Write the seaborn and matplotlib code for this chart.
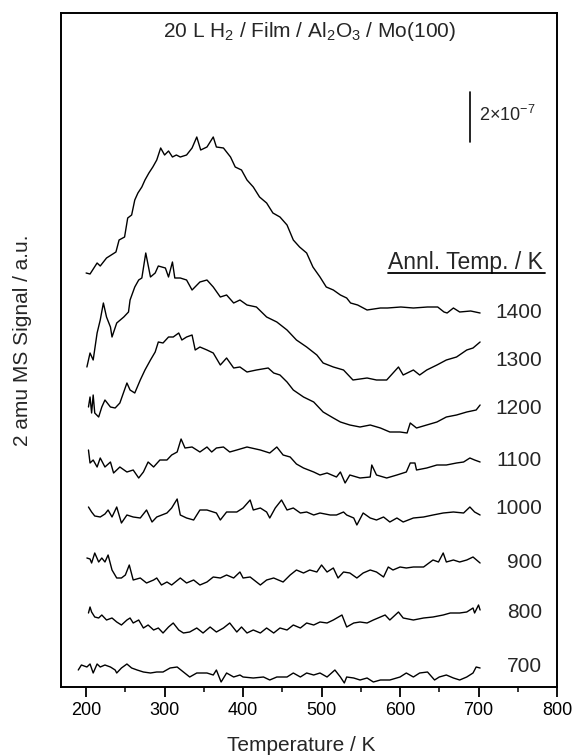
import numpy as np
import pandas as pd
import seaborn as sns
import matplotlib as mpl
mpl.use("Agg")
import matplotlib.pyplot as plt
from matplotlib.lines import Line2D

# signal in units of 4e-9 (scale bar 2e-7 = 50 units)
SIG_UNIT = 4e-9

anneal_temps = ["1400", "1300", "1200", "1100", "1000", "900", "800", "700"]
offsets = [374, 327, 278, 227, 179, 124, 74, 20]

t_1400 = [200,205,214,218,226,238,242,249,253,258,262,266,271,275,280,285,290,295,300,305,
          310,315,320,328,335,341,346,354,362,366,375,384,390,398,405,413,421,430,438,447,
          456,464,472,481,489,498,506,515,524,532,537,546,558,575,584,601,617,635,648,656,
          660,668,676,690,702]
s_1400 = [40,39,50,47,55,61,73,76,95,98,113,120,126,133,140,146,153,165,158,162,
          156,158,156,158,165,176,163,166,176,166,165,156,146,143,133,126,116,110,100,96,
          88,73,66,60,46,36,26,23,18,15,10,8,3,5,5,6,5,6,6,1,
          0,5,1,2,0]

t_1300 = [201,205,209,214,218,222,226,231,233,239,248,254,256,262,267,271,276,282,288,292,
          301,305,310,313,320,328,335,345,354,362,371,379,388,396,405,417,430,443,456,468,
          481,494,502,515,528,540,558,570,583,598,604,617,625,634,647,659,672,685,693,702]
s_1300 = [-7,7,0,27,40,57,43,33,23,37,43,48,60,73,80,82,107,83,87,94,
          92,83,98,82,82,80,70,78,80,73,63,65,57,60,55,53,43,38,30,20,
          13,5,-3,-7,-10,-20,-18,-20,-20,-7,-15,-10,-15,-10,-5,0,3,10,12,18]

t_1200 = [203,205,207,209,211,216,220,224,231,237,243,252,256,262,269,275,282,288,292,298,
          305,311,318,322,328,335,339,345,354,362,371,379,388,396,405,417,432,439,447,456,
          464,477,490,502,515,524,536,549,562,575,587,600,609,613,621,634,647,659,672,685,
          697,702]
s_1200 = [2,12,-4,14,-4,-8,2,9,2,1,6,26,19,16,29,39,49,57,67,66,
          72,72,76,69,72,74,59,62,59,56,44,51,41,42,37,39,41,36,34,27,
          19,12,7,-3,-9,-13,-16,-18,-16,-19,-23,-23,-24,-14,-19,-16,-13,-8,-6,-3,
          -1,4]

t_1100 = [203,205,209,214,218,224,231,235,243,252,260,267,273,279,286,294,303,309,316,321,
          326,335,345,354,360,366,375,383,392,405,422,434,443,451,460,468,477,490,498,507,
          519,524,530,536,549,562,564,570,583,596,608,613,619,621,634,647,659,672,681,689,
          695,702]
s_1100 = [10,-3,0,-7,2,-7,-2,-13,-7,-12,-10,-18,-12,-2,-7,0,0,5,8,21,
          12,13,8,13,8,12,13,8,10,13,10,7,13,5,3,-4,-8,-12,-15,-13,
          -17,-12,-23,-15,-18,-17,-5,-15,-18,-15,-12,-3,-3,-10,-8,-5,-5,-3,-2,2,
          0,-2]

t_1000 = [203,207,211,218,224,228,233,239,245,252,260,269,277,284,290,303,309,316,320,328,
          337,345,354,362,366,371,379,392,400,409,413,422,430,434,441,449,456,464,473,481,
          490,498,511,519,528,532,541,545,553,562,570,579,587,596,604,617,630,642,655,668,
          681,689,695,702]
s_1000 = [1,-4,-8,-9,-6,-2,-9,1,-15,-7,-9,-10,-2,-14,-9,-5,0,9,-7,-10,
          -12,-2,-2,-4,-5,-12,-4,-4,0,8,-2,0,-4,-10,0,8,-2,0,-5,-4,
          -7,-5,-7,-7,-4,-7,-10,-17,-5,-10,-12,-9,-14,-10,-14,-10,-9,-7,-5,-4,
          -5,1,-4,-7]

t_900 = [201,205,207,211,216,220,224,228,233,239,245,250,255,260,269,277,286,290,296,303,
         309,320,328,337,345,354,362,371,379,388,396,400,409,422,430,439,451,460,468,477,
         485,494,500,507,515,521,528,536,545,553,562,570,579,585,591,600,608,617,630,642,
         649,655,659,668,676,685,693,702]
s_900 = [5,4,0,10,1,5,1,8,-7,-15,-15,-12,-2,-17,-15,-20,-17,-15,-22,-19,
         -22,-15,-20,-17,-22,-19,-14,-15,-12,-15,-9,-15,-14,-22,-17,-15,-19,-12,-7,-10,
         -7,-9,-2,-9,-5,-15,-9,-10,-15,-10,-7,-9,-14,-4,-7,-4,-5,-4,-4,3,
         1,10,1,3,1,3,6,0]

t_800 = [203,205,207,211,216,220,226,233,239,245,252,256,260,267,273,279,286,292,298,305,
         311,318,324,332,341,349,358,366,375,383,392,398,405,413,422,430,439,447,456,464,
         473,481,490,498,507,515,526,532,541,549,558,566,575,581,587,598,604,617,630,642,
         655,664,676,685,693,695,700,702]
s_800 = [0,6,1,-4,-5,-2,-7,-5,-9,-12,-7,-5,-10,-7,-15,-12,-17,-15,-20,-14,
         -10,-17,-20,-19,-15,-20,-14,-19,-15,-10,-19,-14,-20,-17,-20,-15,-20,-15,-17,-12,
         -15,-10,-12,-9,-10,-7,-2,-14,-10,-9,-10,-7,-4,-2,-7,1,-5,-7,-5,-4,
         -2,0,0,1,5,0,8,3]

t_700 = [190,194,201,205,209,214,218,224,231,237,239,245,252,258,265,273,282,290,298,307,
         316,324,332,341,345,354,362,366,372,379,388,396,400,413,426,434,443,456,464,473,
         481,490,498,507,517,524,529,532,541,549,558,566,575,587,600,608,617,625,635,644,
         650,659,668,676,685,693,697,702]
s_700 = [-3,2,0,3,-6,3,0,2,0,-3,-6,-1,3,-1,-3,-5,-6,-5,-5,-1,
         0,-5,-10,-6,-6,-6,-8,-3,-15,-6,-10,-8,-10,-11,-10,-13,-10,-10,-6,-10,
         -6,-8,-6,-10,-3,-10,-16,-10,-11,-13,-11,-15,-13,-13,-10,-6,-10,-6,-5,-13,
         -10,-8,-11,-13,-10,-6,0,-1]

temps = [t_1400, t_1300, t_1200, t_1100, t_1000, t_900, t_800, t_700]
signals = [s_1400, s_1300, s_1200, s_1100, s_1000, s_900, s_800, s_700]

scalebar_T = 689
scalebar_bottom = 2.18e-6
scalebar_size = 2e-7

rows = []
for name, t, s, off in zip(anneal_temps, temps, signals, offsets):
    for ti, si in zip(t, s):
        rows.append((name, ti, (si + off) * SIG_UNIT))
df = pd.DataFrame(rows, columns=["anneal", "T", "signal"])

sns.set_style("ticks")
plt.rcParams["font.family"] = ["Liberation Sans", "DejaVu Sans"]
plt.rcParams["mathtext.fontset"] = "custom"
plt.rcParams["mathtext.rm"] = "Liberation Sans"

fig = plt.figure(figsize=(5.72, 7.55), dpi=100)
ax = fig.add_axes([61/572, 68/755, 496/572, 674/755])

sns.lineplot(data=df, x="T", y="signal", hue="anneal", estimator=None, sort=False,
             palette={a: "black" for a in anneal_temps}, legend=False, lw=1.0, ax=ax)

ax.set_xlim(168, 800)
ax.set_ylim(0, 674 * SIG_UNIT)
ax.set_xticks(np.arange(200, 801, 100))
ax.set_xticks(np.arange(250, 800, 100), minor=True)
ax.set_yticks([])
ax.tick_params(axis="x", which="major", direction="out", length=7, width=1.3,
               labelsize=13, pad=4, colors="black")
ax.tick_params(axis="x", which="minor", direction="out", length=3.8, width=1.3)
for sp in ax.spines.values():
    sp.set_linewidth(1.4)
    sp.set_color("black")

ax.set_xlabel("Temperature / K", fontsize=15)
ax.xaxis.set_label_coords(0.484, -0.072)
ax.set_ylabel("2 amu MS Signal / a.u.", fontsize=15)
ax.yaxis.set_label_coords(-0.058, 0.515)

for name, off in zip(anneal_temps, offsets):
    ax.text(781, off * SIG_UNIT, name, ha="right", va="center", fontsize=15)

ax.text(0.5, 0.972, r"20 L H$\mathregular{_2}$ / Film / Al$\mathregular{_2}$O$\mathregular{_3}$ / Mo(100)",
        transform=ax.transAxes, ha="center", va="center", fontsize=15)

ax.plot([scalebar_T, scalebar_T], [scalebar_bottom, scalebar_bottom + scalebar_size],
        color="black", lw=1.2)
ax.text(scalebar_T + 11, scalebar_bottom + scalebar_size * 0.55, r"2×10$^{\mathregular{-7}}$",
        ha="left", va="center", fontsize=13)

hdr = ax.text(585, 425 * SIG_UNIT, "Annl. Temp. / K", ha="left", va="center", fontsize=16.5)
fig.canvas.draw()
bb = hdr.get_window_extent()
inv = fig.transFigure.inverted()
(x0, y0), (x1, _) = inv.transform([(bb.x0, bb.y0 + 1), (bb.x1 + 2, bb.y0)])
fig.add_artist(Line2D([x0, x1], [y0, y0], transform=fig.transFigure, color="black", lw=1.3))

fig.savefig("out.png", dpi=100)
